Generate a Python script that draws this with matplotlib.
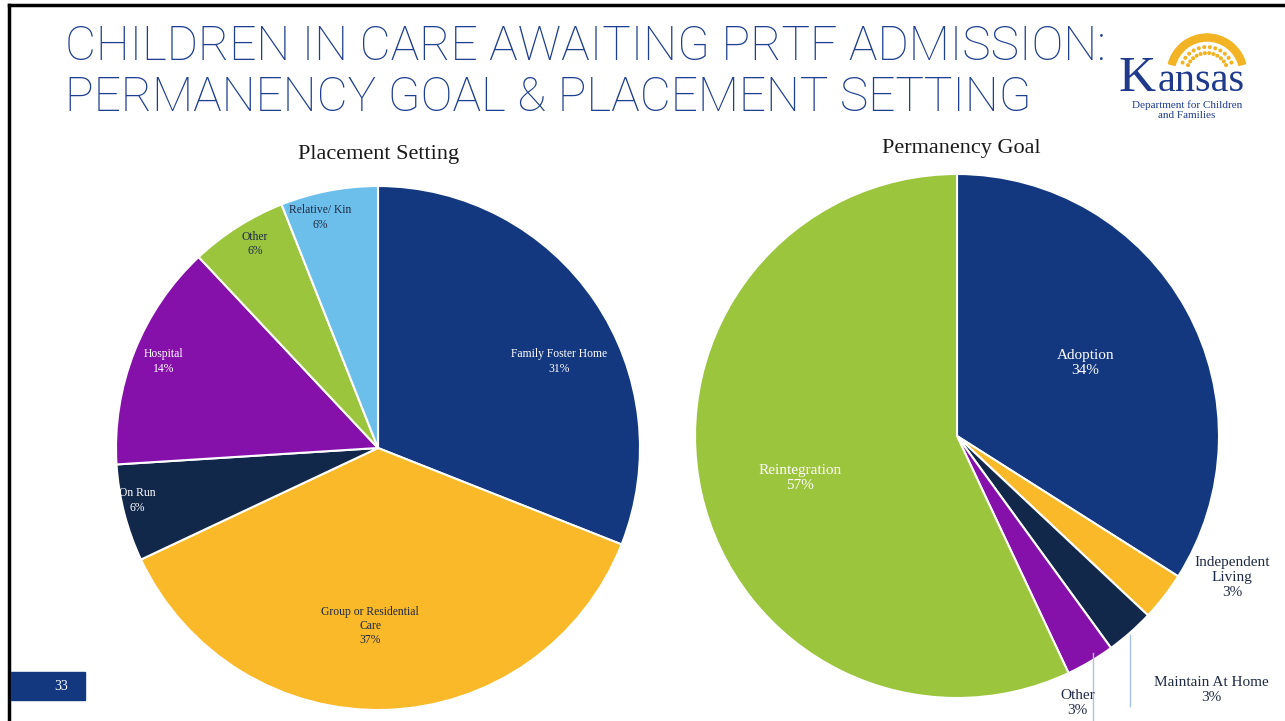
import numpy as np
import matplotlib.pyplot as plt
from matplotlib.patches import Rectangle, Wedge, Circle

# Placement setting (left pie), % of children
place_labels = ["Family Foster Home", "Group or Residential\nCare", "On Run",
                "Hospital", "Other", "Relative/ Kin"]
place_pct = [31, 37, 6, 14, 6, 6]

# Permanency goal (right pie), %
goal_labels = ["Adoption", "Independent\nLiving", "Maintain At Home", "Other", "Reintegration"]
goal_pct = [34, 3, 3, 3, 57]

BLUE = '#14387f'
YELLOW = '#f9b928'
NAVY = '#12284b'
PURPLE = '#8510aa'
GREEN = '#9bc53d'
LBLUE = '#6dbfeb'
TXT = '#1f2a44'

place_colors = [BLUE, YELLOW, NAVY, PURPLE, GREEN, LBLUE]
place_txt = ['white', TXT, 'white', 'white', TXT, TXT]
place_pos = [(0.69, 0.33), (-0.03, -0.68), (-0.92, -0.20), (-0.82, 0.33), (-0.47, 0.78), (-0.22, 0.88)]

goal_colors = [BLUE, YELLOW, NAVY, PURPLE, GREEN]
goal_txt = ['white', TXT, TXT, TXT, 'white']
goal_pos = [(0.49, 0.28), (1.05, -0.54), (0.97, -0.97), (0.46, -1.02), (-0.60, -0.16)]

W, H = 1285, 721
fig = plt.figure(figsize=(W / 100, H / 100), dpi=100)
fig.patch.set_facecolor('white')

def pie_axes(cx, cy, r):
    return fig.add_axes([(cx - r) / W, (H - cy - r) / H, 2 * r / W, 2 * r / H])

serif = 'Liberation Serif'

# left pie
ax1 = pie_axes(378, 448, 262)
ax1.pie(place_pct, colors=place_colors, startangle=90, counterclock=False,
        radius=1, wedgeprops=dict(edgecolor='white', linewidth=1.5))
for lab, p, (x, y), c in zip(place_labels, place_pct, place_pos, place_txt):
    ax1.text(x, y, f"{lab}\n{p}%", ha='center', va='center', color=c,
             fontsize=8.4, family=serif, linespacing=1.25)
ax1.set_xlim(-1, 1)
ax1.set_ylim(-1, 1)
ax1.set_aspect('equal')
ax1.axis('off')

# right pie
ax2 = pie_axes(957, 436, 262)
ax2.pie(goal_pct, colors=goal_colors, startangle=90, counterclock=False,
        radius=1, wedgeprops=dict(edgecolor='white', linewidth=1.5))
for lab, p, (x, y), c in zip(goal_labels, goal_pct, goal_pos, goal_txt):
    ax2.text(x, y, f"{lab}\n{p}%", ha='center', va='center', color=c,
             fontsize=11, family=serif, linespacing=1.2, clip_on=False)
# leader lines for the small slices
ax2.plot([0.66, 0.66], [-0.76, -1.03], color='#a9c4ea', lw=1, clip_on=False)
ax2.plot([0.52, 0.52], [-0.83, -1.09], color='#a9c4ea', lw=1, clip_on=False)
ax2.set_xlim(-1, 1)
ax2.set_ylim(-1, 1)
ax2.set_aspect('equal')
ax2.axis('off')

# pie titles
fig.text(379 / W, 1 - 155 / H, "Placement Setting", ha='center', va='center',
         fontsize=16, family=serif, color='#1a1a1a')
fig.text(961 / W, 1 - 148 / H, "Permanency Goal", ha='center', va='center',
         fontsize=16, family=serif, color='#1a1a1a')

# slide title
fig.text(65 / W, 1 - 47 / H, "CHILDREN IN CARE AWAITING PRTF ADMISSION:",
         ha='left', va='center', fontsize=34.5, family='Roboto', weight='light', color='#1f3f8f')
fig.text(65 / W, 1 - 98 / H, "PERMANENCY GOAL & PLACEMENT SETTING",
         ha='left', va='center', fontsize=34.5, family='Roboto', weight='light', color='#1f3f8f')

# overlay axes in pixel coordinates for frame
ov = fig.add_axes([0, 0, 1, 1], zorder=-1)
ov.set_xlim(0, W)
ov.set_ylim(H, 0)
ov.axis('off')
ov.plot([9, W], [5, 5], color='black', lw=2.5)
ov.plot([9, 9], [5, H], color='black', lw=2.5)

top = fig.add_axes([0, 0, 1, 1], zorder=5)
top.set_xlim(0, W)
top.set_ylim(H, 0)
top.axis('off')
top.add_patch(Rectangle((11, 672), 74, 28, color=BLUE))
top.text(61, 686, "33", color='white', ha='center', va='center', fontsize=10, family=serif)

# Kansas logo
GOLD = '#f2b324'
top.add_patch(Wedge((1207, 74), 40, 195, 345, width=7, color=GOLD))
for rr in (21, 27):
    for a in np.linspace(205, 335, 12):
        t = np.radians(a)
        top.add_patch(Circle((1207 + rr * np.cos(t), 74 + rr * np.sin(t)), 1.3, color=GOLD))
top.text(1119, 91, "K", color='#1f3a8a', fontsize=37, family=serif, ha='left', va='baseline')
top.text(1158, 91, "ansas", color='#1f3a8a', fontsize=29, family=serif, ha='left', va='baseline')
top.text(1187, 105, "Department for Children", color='#1f3a8a', fontsize=8, family=serif,
         ha='center', va='center')
top.text(1187, 116, "and Families", color='#1f3a8a', fontsize=8, family=serif,
         ha='center', va='center')

fig.savefig('out.png', dpi=100)
